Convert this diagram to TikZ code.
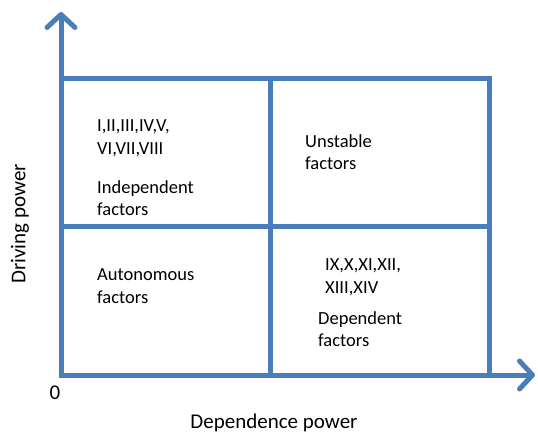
\documentclass[tikz,border=0pt]{standalone}
\usepackage{fontspec}
\setmainfont{Carlito}
\usepackage{tikz}
\usetikzlibrary{arrows.meta}
\definecolor{gridblue}{RGB}{74,126,187}

\begin{document}
\begin{tikzpicture}[x=1pt,y=-1pt,
    every node/.style={inner sep=0pt,align=left,font=\fontsize{18.5}{22.5}\selectfont},
    gridline/.style={draw=gridblue,line width=5pt},
    barb/.style={Straight Barb[length=13pt,width=28pt,round]},
    axislabel/.style={font=\fontsize{21}{25}\selectfont}]
    \useasboundingbox (0,0) rectangle (538,433);
    % corners of the grid
    \coordinate (origin) at (61,375);
    \coordinate (ytip) at (61,12);
    \coordinate (xtip) at (535,375);
    \coordinate (tl) at (61,79);
    \coordinate (br) at (489,375);
    % axes and quadrants
    \draw[gridline,{Straight Barb[length=13pt,width=28pt,round]}-{Straight Barb[length=13pt,width=28pt,round]},line join=miter] (ytip) -- (origin) -- (xtip);
    \draw[gridline] (tl) -- (489,79) -- (br);
    \draw[gridline] (270,79) -- (270,375);
    \draw[gridline] (61,226) -- (489,226);
    % quadrant texts
    \node[anchor=west] (indlist) at (97,138) {I,II,III,IV,V,\\VI,VII,VIII};
    \node[anchor=west] (indep) at (97,198) {Independent\\factors};
    \node[anchor=west] (unstab) at (305,152) {Unstable\\factors};
    \node[anchor=west] (auton) at (97,286) {Autonomous\\factors};
    \node[anchor=west] (deplist) at (325,277) {IX,X,XI,XII,\\XIII,XIV};
    \node[anchor=west] (depend) at (318,329) {Dependent\\factors};
    % axis labels
    \node[axislabel] (zero) at (55,393) {0};
    \node[axislabel,rotate=90] (ylab) at (20,224) {Driving power};
    \node[axislabel] (xlab) at (274,423) {Dependence power};
\end{tikzpicture}
\end{document}
